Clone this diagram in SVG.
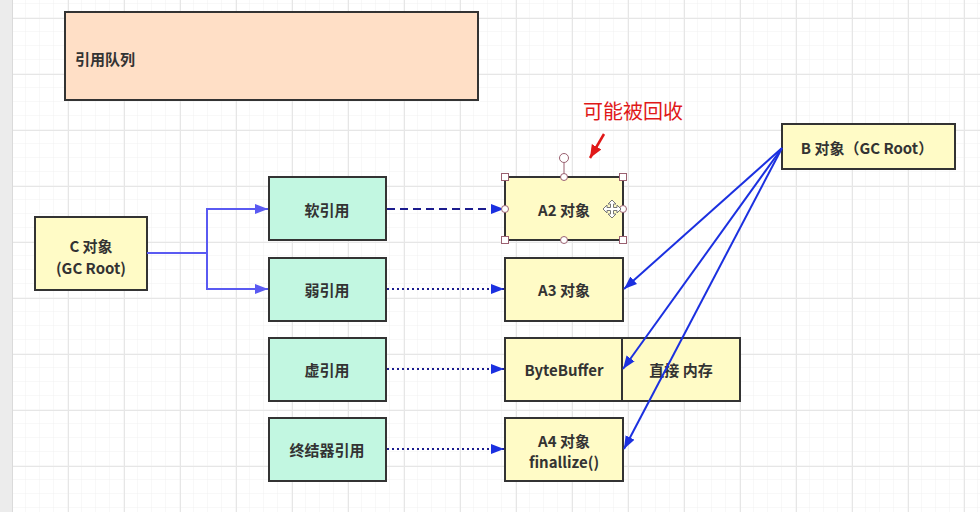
<svg xmlns="http://www.w3.org/2000/svg" width="980" height="512" viewBox="0 0 980 512">
<style>
text{font-family:"Noto Sans CJK SC","Liberation Sans",sans-serif;font-weight:bold;font-size:15px;fill:#333;}
.c{text-anchor:middle;dominant-baseline:central;}
.box{stroke:#333;stroke-width:2;}
.y{fill:#FFFBC6;}
.g{fill:#C2F7E1;}
.q{fill:#FFDFC6;}
.hs{fill:#fff;stroke:#9a6070;stroke-width:1;}
</style>
<defs>
<pattern id="minor" x="12" y="18" width="14" height="14" patternUnits="userSpaceOnUse">
<path d="M14 0V14M0 14H14" fill="none" stroke="#f1f1f1" stroke-width="1"/>
</pattern>
<pattern id="major" x="12" y="18" width="56" height="56" patternUnits="userSpaceOnUse">
<path d="M0.5 0V56M0 0.5H56" fill="none" stroke="#e6e6e6" stroke-width="1"/>
</pattern>
<marker id="aL" markerUnits="userSpaceOnUse" markerWidth="14" markerHeight="12" refX="13" refY="6" orient="auto"><path d="M0,1 L13,6 L0,11 Z" fill="#5a5af2"/></marker>
<marker id="aB" markerUnits="userSpaceOnUse" markerWidth="14" markerHeight="12" refX="13" refY="6" orient="auto"><path d="M0,1 L13,6 L0,11 Z" fill="#1b30e0"/></marker>
<marker id="aR" markerUnits="userSpaceOnUse" markerWidth="14" markerHeight="12" refX="13" refY="6" orient="auto"><path d="M0,0.5 L13,6 L0,11.5 Z" fill="#e01818"/></marker>
</defs>
<rect width="980" height="512" fill="#fff"/>
<rect width="980" height="512" fill="url(#minor)"/>
<rect width="980" height="512" fill="url(#major)"/>
<rect x="0" y="0" width="12" height="512" fill="#ececec"/>
<line x1="12.5" y1="0" x2="12.5" y2="512" stroke="#dadada"/>

<g id="queue"><rect class="box q" x="65" y="12" width="413" height="88"/><text x="75" y="58" dominant-baseline="central">引用队列</text></g>
<g id="cobj"><rect class="box y" x="35" y="217" width="112" height="73"/><text class="c" x="91" y="245">C 对象</text><text class="c" x="91" y="267">(GC Root)</text></g>
<g id="soft"><rect class="box g" x="269" y="177" width="117" height="63"/><text class="c" x="327" y="209">软引用</text></g>
<g id="weak"><rect class="box g" x="269" y="258" width="117" height="63"/><text class="c" x="327" y="289">弱引用</text></g>
<g id="phantom"><rect class="box g" x="269" y="338" width="117" height="63"/><text class="c" x="327" y="369">虚引用</text></g>
<g id="final"><rect class="box g" x="269" y="418" width="117" height="63"/><text class="c" x="327" y="449">终结器引用</text></g>
<g id="a2"><rect class="box y" x="505" y="177" width="118" height="63"/><text class="c" x="564" y="209">A2 对象</text></g>
<g id="a3"><rect class="box y" x="505" y="258" width="118" height="63"/><text class="c" x="564" y="289">A3 对象</text></g>
<g id="bytebuffer"><rect class="box y" x="505" y="338" width="117" height="63"/><text class="c" x="564" y="369">ByteBuffer</text></g>
<g id="direct"><rect class="box y" x="622" y="338" width="118" height="63"/><text class="c" x="681" y="369">直接 内存</text></g>
<g id="a4"><rect class="box y" x="505" y="418" width="118" height="63"/><text class="c" x="564" y="440">A4 对象</text><text class="c" x="564" y="461">finallize()</text></g>
<g id="bobj"><rect class="box y" x="782" y="124" width="173" height="45"/><text class="c" x="867" y="147">B 对象（GC Root）</text></g>

<g id="connectors" fill="none">
<path d="M147 253H207V209H268" stroke="#5a5af2" stroke-width="2" marker-end="url(#aL)"/>
<path d="M207 253V289H268" stroke="#5a5af2" stroke-width="2" marker-end="url(#aL)"/>
<line x1="387" y1="209" x2="504" y2="209" stroke="#1c1c8e" stroke-width="2" stroke-dasharray="8 5" marker-end="url(#aB)"/>
<line x1="387" y1="289" x2="504" y2="289" stroke="#1c1c8e" stroke-width="2" stroke-dasharray="2 3" marker-end="url(#aB)"/>
<line x1="387" y1="369" x2="504" y2="369" stroke="#1c1c8e" stroke-width="2" stroke-dasharray="2 3" marker-end="url(#aB)"/>
<line x1="387" y1="449" x2="504" y2="449" stroke="#1c1c8e" stroke-width="2" stroke-dasharray="2 3" marker-end="url(#aB)"/>
<line x1="782" y1="148" x2="624" y2="289" stroke="#1b30e0" stroke-width="2" marker-end="url(#aB)"/>
<line x1="782" y1="148" x2="623" y2="369" stroke="#1b30e0" stroke-width="2" marker-end="url(#aB)"/>
<line x1="782" y1="148" x2="624" y2="449" stroke="#1b30e0" stroke-width="2" marker-end="url(#aB)"/>
<line x1="604" y1="134" x2="590" y2="158" stroke="#e01818" stroke-width="2.5" marker-end="url(#aR)"/>
</g>

<text x="633" y="110" text-anchor="middle" dominant-baseline="central" style="fill:#e01818;font-weight:normal;font-size:20px">可能被回收</text>

<g id="selection">
<line x1="564" y1="163" x2="564" y2="177" stroke="#9a6070"/>
<circle class="hs" cx="564" cy="158" r="4.5"/>
<rect class="hs" x="501.5" y="173.5" width="7" height="7"/>
<rect class="hs" x="619.5" y="173.5" width="7" height="7"/>
<rect class="hs" x="501.5" y="236.5" width="7" height="7"/>
<rect class="hs" x="619.5" y="236.5" width="7" height="7"/>
<circle class="hs" cx="564" cy="177" r="3.5"/>
<circle class="hs" cx="564" cy="240" r="3.5"/>
<circle class="hs" cx="505" cy="209" r="3.5"/>
<circle class="hs" cx="623" cy="209" r="3.5"/>
<path d="M612 200l4 4h-2.5v3.5h3.5v-2.5l4 4-4 4v-2.5h-3.5v3.5h2.5l-4 4-4-4h2.5v-3.5h-3.5v2.5l-4-4 4-4v2.5h3.5v-3.5h-2.5z" fill="#fff" stroke="#777" stroke-width="1"/>
</g>
</svg>
